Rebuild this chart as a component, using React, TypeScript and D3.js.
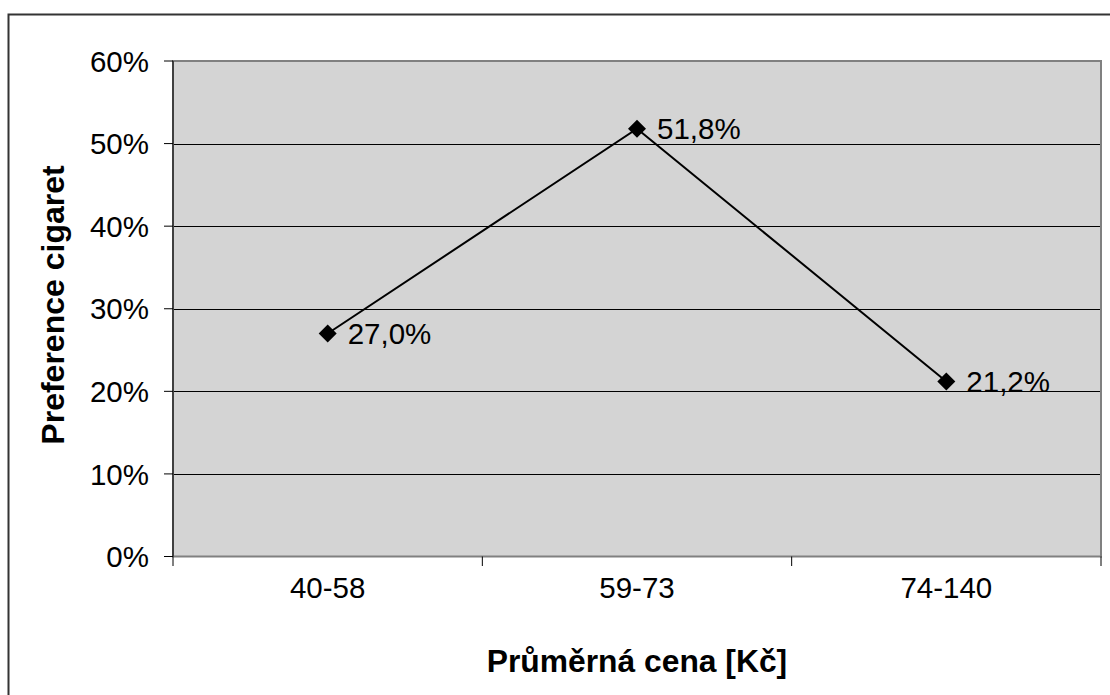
import React from "react";
import * as d3 from "d3";

const categories = ["40-58", "59-73", "74-140"];
const values = [0.27, 0.518, 0.212];
const valueLabels = ["27,0%", "51,8%", "21,2%"];
const yTicks = [0, 0.1, 0.2, 0.3, 0.4, 0.5, 0.6];

const W = 1110;
const H = 695;
const plot = { left: 173, top: 61, right: 1101, bottom: 556.5 };
const FONT = "'Liberation Sans', Arial, sans-serif";

export default function App() {
  const x = d3.scaleBand<string>().domain(categories).range([plot.left, plot.right]);
  const y = d3.scaleLinear().domain([0, 0.6]).range([plot.bottom, plot.top]);
  const cx = (c: string) => (x(c) as number) + x.bandwidth() / 2;
  const line = d3
    .line<number>()
    .x((_, i) => cx(categories[i]))
    .y((d) => y(d));
  const boundaries = [...categories.map((c) => x(c) as number), plot.right];
  const fmt = (v: number) => `${Math.round(v * 100)}%`;

  return (
    <svg
      width={W}
      height={H}
      style={{ position: "fixed", left: 0, top: 0, background: "#fff" }}
      fontFamily={FONT}
    >
      <rect x={8.5} y={14.5} width={1120} height={700} fill="#fff" stroke="#333" strokeWidth={2} />
      <rect
        x={plot.left}
        y={plot.top}
        width={plot.right - plot.left}
        height={plot.bottom - plot.top}
        fill="#d4d4d4"
      />
      {yTicks.slice(1, -1).map((t) => (
        <line key={t} x1={plot.left} x2={plot.right} y1={Math.round(y(t)) + 0.5} y2={Math.round(y(t)) + 0.5} stroke="#000" strokeWidth={1} />
      ))}
      <rect
        x={plot.left}
        y={plot.top}
        width={plot.right - plot.left}
        height={plot.bottom - plot.top}
        fill="none"
        stroke="#808080"
        strokeWidth={2}
      />
      <line x1={plot.left} x2={plot.left} y1={plot.top} y2={plot.bottom} stroke="#000" strokeWidth={1} />
      {yTicks.map((t) => (
        <g key={t}>
          <line x1={164} x2={plot.left} y1={y(t)} y2={y(t)} stroke="#000" strokeWidth={1} />
          <text x={149} y={y(t)} dy="0.36em" textAnchor="end" fontSize={29.5}>
            {fmt(t)}
          </text>
        </g>
      ))}
      {boundaries.map((b, i) => (
        <line key={i} x1={b} x2={b} y1={plot.bottom} y2={566} stroke="#000" strokeWidth={1} />
      ))}
      {categories.map((c) => (
        <text key={c} x={cx(c)} y={598} textAnchor="middle" fontSize={29.5}>
          {c}
        </text>
      ))}
      <path d={line(values) || ""} fill="none" stroke="#000" strokeWidth={2} />
      {values.map((v, i) => (
        <g key={i}>
          <path
            d={`M${cx(categories[i])},${y(v) - 9}l9,9l-9,9l-9,-9z`}
            fill="#000"
          />
          <text x={cx(categories[i]) + 20} y={y(v)} dy="0.36em" fontSize={29.5}>
            {valueLabels[i]}
          </text>
        </g>
      ))}
      <text x={637} y={672} textAnchor="middle" fontSize={31.8} fontWeight="bold">
        Průměrná cena [Kč]
      </text>
      <text
        transform={`translate(64,305) rotate(-90)`}
        textAnchor="middle"
        fontSize={32}
        fontWeight="bold"
      >
        Preference cigaret
      </text>
    </svg>
  );
}
